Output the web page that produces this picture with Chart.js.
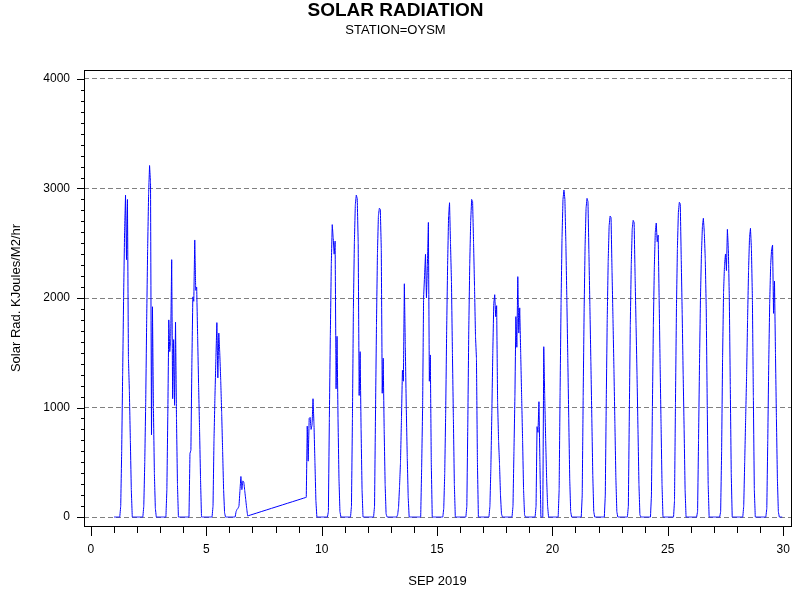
<!DOCTYPE html>
<html>
<head>
<meta charset="utf-8">
<title>Solar Radiation</title>
<script src="https://cdn.jsdelivr.net/npm/chart.js@4.4.1/dist/chart.umd.min.js"></script>
<style>
  html, body { margin: 0; padding: 0; background: #fff; }
  #chart_box { display: block; }
</style>
</head>
<body>
<canvas id="chart_box" width="800" height="600"></canvas>
<script>
// hourly solar radiation, hour 0..23 of each day (null = no reading)
var sep01 = [0,0,0,0,0,0, 0,100,600,1300,2000,2600,2940,2350,2900,1450,1150,700,250,0, 0,0,0,0];
var sep02 = [0,0,0,0,0,0, 0,100,500,1050,1800,2450,2950,3210,3050,750,1920,1000,400,80, 0,0,0,0];
var sep03 = [0,0,0,0,0,0, 0,250,950,1800,1510,1630,2350,1080,1620,1020,1780,900,300,0, 0,0,0,0];
var sep04 = [0,0,0,0,0,0, 0,580,610,1400,2010,1970,2530,2070,2100,1650,1200,800,350,0, 0,0,0,0];
var sep05 = [0,0,0,0,0,0, 0,100,700,1100,1450,1775,1270,1680,1500,1250,950,600,250,40, 0,0,0,0];
var sep06 = [0,0,0,0,0,0, 0,50,70,80,100,240,370,250,330,320,240,160,80,10, null,null,null,null];
var sep09 = [null,null,null,null,null,null, null,null,180,830,510,900,910,800,840,1080,850,500,150,0, 0,0,0,0];
var sep10 = [0,0,0,0,0,0, 0,50,900,1650,2300,2670,2550,2400,2520,1170,1650,900,350,50, 0,0,0,0];
var sep11 = [0,0,0,0,0,0, 0,100,900,1900,2500,2850,2940,2910,2500,1110,1510,800,250,0, 0,0,0,0];
var sep12 = [0,0,0,0,0,0, 0,100,950,1750,2400,2750,2820,2810,2450,1130,1450,800,300,30, 0,0,0,0];
var sep13 = [0,0,0,0,0,0, 0,20,90,280,500,900,1340,1240,2130,1550,1000,550,180,0, 0,0,0,0];
var sep14 = [0,0,0,0,0,0, 0,0,450,1000,2000,2200,2400,2000,2300,2690,1240,1480,500,0, 0,0,0,0];
var sep15 = [0,0,0,0,0,0, 0,80,400,950,1700,2300,2750,2870,2500,2150,1500,900,300,0, 0,0,0,0];
var sep16 = [0,0,0,0,0,0, 0,100,850,1700,2300,2700,2900,2880,2500,2100,1650,1450,500,0, 0,0,0,0];
var sep17 = [0,0,0,0,0,0, 0,100,450,950,1500,1950,2030,1830,1930,1050,700,480,200,30, 0,0,0,0];
var sep18 = [0,0,0,0,0,0, 0,100,600,1100,1830,1550,2195,1680,1910,1500,1100,700,250,20, 0,0,0,0];
var sep19 = [0,0,0,0,0,0, 0,100,825,773,1053,500,0,0,0,1555,1100,700,350,100, 0,0,0,0];
var sep20 = [0,0,0,0,0,0, 0,250,1150,1950,2550,2900,2986,2900,2500,2000,1450,900,350,50, 0,0,0,0];
var sep21 = [0,0,0,0,0,0, 0,200,1100,1900,2480,2820,2910,2880,2400,1920,1420,900,380,50, 0,0,0,0];
var sep22 = [0,0,0,0,0,0, 0,200,1050,1800,2330,2660,2749,2734,2250,1810,1350,850,360,50, 0,0,0,0];
var sep23 = [0,0,0,0,0,0, 0,100,950,1750,2300,2630,2709,2690,2200,1750,1300,800,300,20, 0,0,0,0];
var sep24 = [0,0,0,0,0,0, 0,200,1000,1750,2280,2600,2685,2514,2575,2000,1400,850,300,0, 0,0,0,0];
var sep25 = [0,0,0,0,0,0, 0,150,1050,1900,2450,2780,2874,2860,2350,1850,1300,800,250,0, 0,0,0,0];
var sep26 = [0,0,0,0,0,0, 0,50,700,1400,2000,2400,2650,2728,2600,2350,1900,1050,300,0, 0,0,0,0];
var sep27 = [0,0,0,0,0,0, 0,50,600,1450,2050,2300,2402,2250,2627,2450,2000,1200,400,0, 0,0,0,0];
var sep28 = [0,0,0,0,0,0, 0,100,500,900,1300,1800,2250,2550,2636,2450,2000,1100,250,0, 0,0,0,0];
var sep29 = [0,0,0,0,0,0, 0,80,700,1400,1950,2300,2447,2484,1860,2155,1500,900,350,50, 0,0,0,0];

// day of month for each array above (7 and 8 are missing)
var dayNumbers = [1,2,3,4,5,6,9,10,11,12,13,14,15,16,17,18,19,20,21,22,23,24,25,26,27,28,29];
var dayReadings = [sep01,sep02,sep03,sep04,sep05,sep06,sep09,sep10,sep11,sep12,sep13,sep14,sep15,
                   sep16,sep17,sep18,sep19,sep20,sep21,sep22,sep23,sep24,sep25,sep26,sep27,sep28,sep29];

var xLabelDays = [0,5,10,15,20,25,30];
var yLabelValues = [0,1000,2000,3000,4000];

var FONT = "'Liberation Sans', Arial, sans-serif";

//----------------------------
// turn the daily arrays into
// x = day + hour/24 points
//----------------------------
function buildPoints() {
    var pts = [];
    for (var i = 0; i < dayNumbers.length; i++) {
        var vals = dayReadings[i];
        for (var h = 0; h < vals.length; h++) {
            if (vals[h] === null) continue;
            pts.push({ x: dayNumbers[i] + h / 24, y: vals[h] });
        }
    }
    return pts;
}

// frame round the plot and the outside tick marks
var frameAndTicks = {
    id: 'frameAndTicks',
    afterDraw: function (chart) {
        var ctx = chart.ctx;
        var a = chart.chartArea;
        var xs = chart.scales.x, ys = chart.scales.y;
        ctx.save();
        ctx.strokeStyle = '#000';
        ctx.lineWidth = 1;
        ctx.strokeRect(a.left + 0.5, a.top + 0.5, a.right - a.left, a.bottom - a.top);
        ctx.beginPath();
        xs.ticks.forEach(function (t) {
            var px = Math.round(xs.getPixelForValue(t.value)) + 0.5;
            var len = xLabelDays.indexOf(t.value) >= 0 ? 9 : 6;
            ctx.moveTo(px, a.bottom + 1);
            ctx.lineTo(px, a.bottom + 1 + len);
        });
        ys.ticks.forEach(function (t) {
            var py = Math.round(ys.getPixelForValue(t.value)) + 0.5;
            var len = yLabelValues.indexOf(t.value) >= 0 ? 7 : 3;
            ctx.moveTo(a.left, py);
            ctx.lineTo(a.left - len, py);
        });
        ctx.stroke();
        ctx.restore();
    }
};

function loadChart() {
    var ctx = document.getElementById('chart_box').getContext('2d');
    Chart.defaults.color = '#000';
    Chart.defaults.font.family = FONT;
    return new Chart(ctx, {
        type: 'line',
        data: {
            datasets: [{
                label: 'Solar Rad.',
                data: buildPoints(),
                borderColor: '#0000ff',
                borderWidth: 1,
                pointRadius: 0,
                fill: false,
                // tiny tension keeps segments straight but avoids the
                // per-pixel fast path that draws vertical slivers
                tension: 0.0001
            }]
        },
        options: {
            responsive: false,
            animation: false,
            devicePixelRatio: 1,
            layout: { padding: { left: 0, right: 9, top: 0, bottom: 0 } },
            plugins: {
                legend: { display: false },
                tooltip: { enabled: false },
                title: {
                    display: true,
                    text: 'SOLAR RADIATION',
                    font: { size: 19, weight: 'bold', lineHeight: 1.1 },
                    padding: { top: 0, bottom: 0 }
                },
                subtitle: {
                    display: true,
                    text: 'STATION=OYSM',
                    font: { size: 13 },
                    padding: { top: 1.7, bottom: 31.8 }
                }
            },
            scales: {
                x: {
                    type: 'linear',
                    min: -0.3,
                    max: 30.34,
                    afterBuildTicks: function (scale) {
                        var t = [];
                        for (var d = 0; d <= 30; d++) t.push({ value: d });
                        scale.ticks = t;
                    },
                    afterFit: function (scale) {
                        scale.height = 74;
                        scale.paddingLeft = 0;
                        scale.paddingRight = 0;
                    },
                    grid: { display: false, drawTicks: false },
                    border: { display: false },
                    ticks: {
                        autoSkip: false,
                        maxRotation: 0,
                        padding: 16,
                        font: { size: 12 },
                        callback: function (v) { return xLabelDays.indexOf(v) >= 0 ? String(v) : ''; }
                    },
                    title: {
                        display: true,
                        text: 'SEP 2019',
                        font: { size: 13 },
                        padding: { top: 0, bottom: 11.2 }
                    }
                },
                y: {
                    type: 'linear',
                    min: -82,
                    max: 4082,
                    afterBuildTicks: function (scale) {
                        var t = [];
                        for (var v = 0; v <= 4000; v += 100) t.push({ value: v });
                        scale.ticks = t;
                    },
                    afterFit: function (scale) {
                        scale.width = 84;
                        scale.paddingTop = 0;
                        scale.paddingBottom = 0;
                    },
                    grid: {
                        drawTicks: false,
                        lineWidth: 1,
                        color: function (c) {
                            return c.tick && yLabelValues.indexOf(c.tick.value) >= 0 ? '#808080' : 'rgba(0,0,0,0)';
                        }
                    },
                    border: { display: false, dash: [5, 3] },
                    ticks: {
                        autoSkip: false,
                        padding: 14,
                        font: { size: 12 },
                        callback: function (v) { return yLabelValues.indexOf(v) >= 0 ? String(v) : ''; }
                    },
                    title: {
                        display: true,
                        text: 'Solar Rad. KJoules/M2/hr',
                        font: { size: 13 },
                        padding: { top: 8.2, bottom: 0 }
                    }
                }
            }
        },
        plugins: [frameAndTicks]
    });
}

var chart = loadChart();
</script>
</body>
</html>
